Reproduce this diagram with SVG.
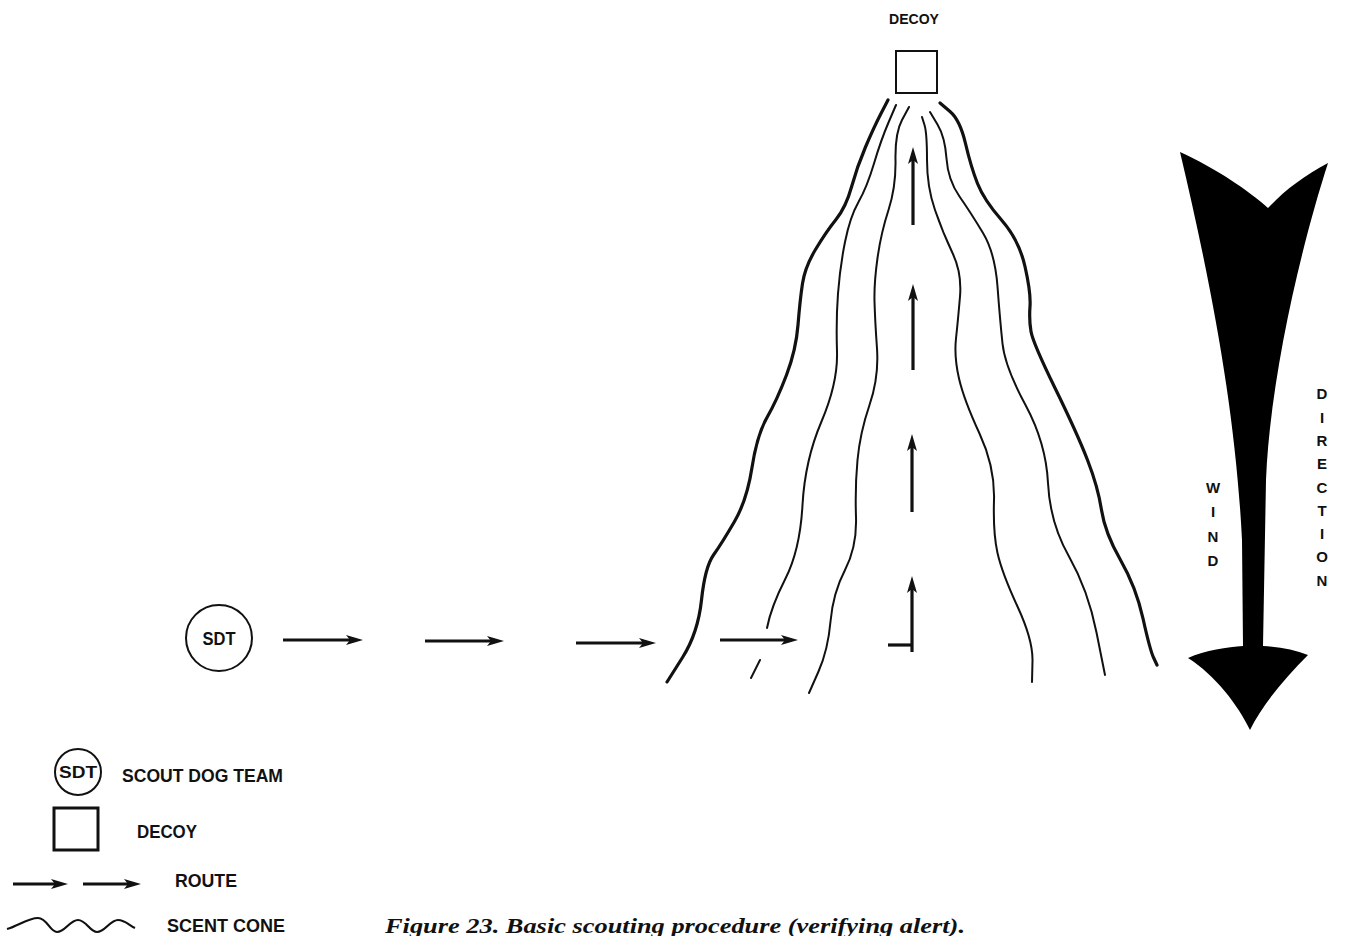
<svg xmlns="http://www.w3.org/2000/svg" width="1348" height="936" viewBox="0 0 1348 936">
<style>
.lbl{font-family:"Liberation Sans",Arial,sans-serif;font-weight:bold;fill:#111}
.cone{fill:none;stroke:#111;stroke-width:2;stroke-linecap:round;stroke-linejoin:round}
.cone.outer{stroke-width:3.2}
.route{fill:none;stroke:#111;stroke-width:3.2}
.node{fill:none;stroke:#111;stroke-width:2}
</style>
<defs>
<marker id="ah" markerUnits="userSpaceOnUse" markerWidth="20" markerHeight="14" refX="8" refY="7" orient="auto">
<path d="M0,2 L17,7 L0,12 L4,7 Z" fill="#111"/>
</marker>
</defs>
<rect width="1348" height="936" fill="#fff"/>

<g id="decoy">
<text class="lbl" x="914" y="24" font-size="15" text-anchor="middle" textLength="50" lengthAdjust="spacingAndGlyphs">DECOY</text>
<rect class="node" x="896" y="51" width="41" height="42"/>
</g>

<g id="sdt">
<circle class="node" cx="219" cy="638" r="33"/>
<text class="lbl" x="219" y="645" font-size="18" text-anchor="middle" textLength="33" lengthAdjust="spacingAndGlyphs">SDT</text>
</g>

<g id="scent-cone">
<path class="cone outer" d="M888,100 L881,113.5 Q874,127 865.5,147 Q857,167 851.5,187 Q846,207 836,219.5 Q826,232 815.5,249.5 Q805,267 802.5,283.5 Q800,300 798,325 Q796,350 786.5,375 Q777,400 767,417.5 Q757,435 752,467.5 Q747,500 734.5,521.5 Q722,543 713.5,555 Q705,567 701.5,600 Q698,633 682.5,657.5 L667,682"/>
<path class="cone" d="M896,105 L888.5,122.5 Q881,140 874,163.5 Q867,187 858.5,202 Q850,217 845,242 Q840,267 838,293.5 Q836,320 837,351.5 Q838,383 821.5,421.5 Q805,460 802.5,505 Q800,550 785.5,578.5 Q771,607 767,628"/>
<path class="cone" d="M760,660 L751,678"/>
<path class="cone" d="M909,107 L902,120 Q895,133 895.5,160 Q896,187 888.5,210 Q881,233 877.5,258 Q874,283 874.5,301.5 Q875,320 877,348.5 Q879,377 869.5,405 Q860,433 857.5,460 Q855,487 856,517 Q857,547 845,570 Q833,593 830.5,621.5 Q828,650 818.5,671.5 L809,693"/>
<path class="cone" d="M922,117 L924.5,125 Q927,133 927,160 Q927,187 935,210 Q943,233 952.5,253 Q962,273 960,296.5 Q958,320 956,338.5 Q954,357 959,378.5 Q964,400 979.5,433.5 Q995,467 994,500 Q993,533 997.5,553 Q1002,573 1017.5,606.5 Q1033,640 1032.5,661 L1032,682"/>
<path class="cone" d="M930,112 L937.5,124.5 Q945,137 946.5,158.5 Q948,180 959.5,196.5 Q971,213 983,233 Q995,253 997.5,286.5 Q1000,320 1002.5,343.5 Q1005,367 1025.5,405 Q1046,443 1048,483 Q1050,523 1069,556.5 Q1088,590 1096.5,632.5 L1105,675"/>
<path class="cone outer" d="M940,103 L950,111.5 Q960,120 965.5,143.5 Q971,167 977.5,183.5 Q984,200 1001.5,220 Q1019,240 1025,266.5 Q1031,293 1030,306.5 Q1029,320 1031,331.5 Q1033,343 1055,388 Q1077,433 1087.5,460 Q1098,487 1101.5,510 Q1105,533 1120.5,560 Q1136,587 1143,618.5 Q1150,650 1153.5,657.5 L1157,665"/>
</g>

<g id="connectors">
<path class="route" d="M283,640 L354,640" marker-end="url(#ah)"/>
<path class="route" d="M425,641 L495,641" marker-end="url(#ah)"/>
<path class="route" d="M576,643 L647,643" marker-end="url(#ah)"/>
<path class="route" d="M720,640 L789,640" marker-end="url(#ah)"/>
<path class="route" d="M888,645 L913,645"/>
<path class="route" d="M912,652 L912,585" marker-end="url(#ah)"/>
<path class="route" d="M912,512 L912,443" marker-end="url(#ah)"/>
<path class="route" d="M913,370 L913,293" marker-end="url(#ah)"/>
<path class="route" d="M913,225 L913,156" marker-end="url(#ah)"/>
</g>

<g id="wind-direction">
<path fill="#000" d="M1180,152 C1215,168 1248,190 1268,208 C1285,190 1305,175 1328,163 C1300,250 1270,380 1266,480 L1263,646 C1280,647 1295,650 1308,655 C1285,678 1262,705 1250,730 C1238,705 1215,675 1188,658 C1205,650 1228,647 1243,646 L1242,540 C1236,420 1215,300 1180,152 Z"/>
<g class="lbl" font-size="15" text-anchor="middle">
<text x="1213" y="493">W</text>
<text x="1213" y="517">I</text>
<text x="1213" y="542">N</text>
<text x="1213" y="566">D</text>
<text x="1322" y="399">D</text>
<text x="1322" y="423">I</text>
<text x="1322" y="446">R</text>
<text x="1322" y="469">E</text>
<text x="1322" y="493">C</text>
<text x="1322" y="516">T</text>
<text x="1322" y="539">I</text>
<text x="1322" y="562">O</text>
<text x="1322" y="586">N</text>
</g>
</g>

<g id="legend">
<circle class="node" cx="78" cy="772" r="23"/>
<text class="lbl" x="78" y="778" font-size="16" text-anchor="middle" textLength="38" lengthAdjust="spacingAndGlyphs">SDT</text>
<text class="lbl" x="122" y="782" font-size="18" textLength="161" lengthAdjust="spacingAndGlyphs">SCOUT DOG TEAM</text>
<rect x="54" y="808" width="44" height="42" fill="none" stroke="#111" stroke-width="3"/>
<text class="lbl" x="137" y="838" font-size="18" textLength="60" lengthAdjust="spacingAndGlyphs">DECOY</text>
<path class="route" d="M13,884 L59,884" marker-end="url(#ah)"/>
<path class="route" d="M83,884 L132,884" marker-end="url(#ah)"/>
<text class="lbl" x="175" y="887" font-size="18" textLength="62" lengthAdjust="spacingAndGlyphs">ROUTE</text>
<path fill="none" stroke="#111" stroke-width="2.2" d="M7,929 C18,926 28,918 38,918 C47,918 50,932 57,932 C65,932 70,920 78,920 C86,920 90,932 97,932 C105,932 110,920 118,920 C125,920 130,926 135,928"/>
<text class="lbl" x="167" y="932" font-size="18" textLength="118" lengthAdjust="spacingAndGlyphs">SCENT CONE</text>
<text x="385" y="933" font-family="'Liberation Serif','Times New Roman',serif" font-style="italic" font-weight="bold" font-size="22" fill="#111" textLength="580" lengthAdjust="spacingAndGlyphs">Figure 23. Basic scouting procedure (verifying alert).</text>
</g>
</svg>
